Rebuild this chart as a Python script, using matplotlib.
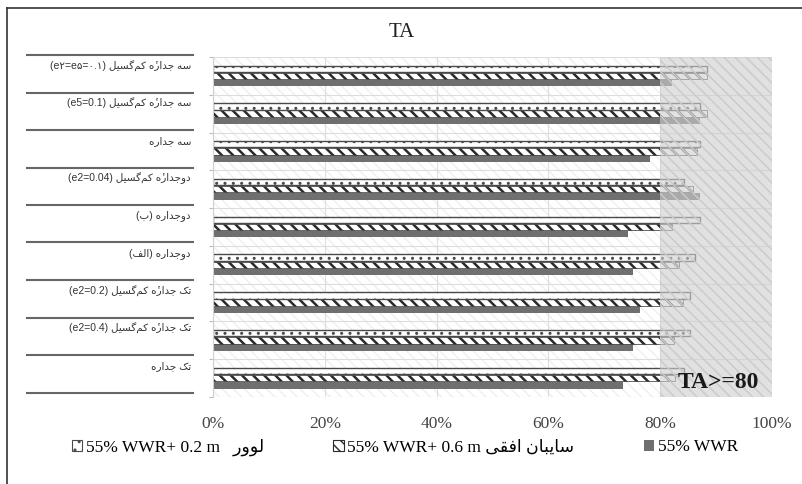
import matplotlib
matplotlib.use("Agg")
import matplotlib.pyplot as plt
from matplotlib.patches import Patch
from matplotlib.lines import Line2D

# categories, top to bottom (Persian part + latin part)
cat_fa = ["سه جدارۀ کم‌گسیل", "سه جدارۀ کم‌گسیل", "سه جداره",
          "دوجدارۀ کم‌گسیل", "دوجداره", "دوجداره",
          "تک جدارۀ کم‌گسیل", "تک جدارۀ کم‌گسیل", "تک جداره"]
cat_tag = ["(e۲=e۵=۰.۱)", "(e5=0.1)", "", "(e2=0.04)", "(ب)", "(الف)",
           "(e2=0.2)", "(e2=0.4)", ""]

wwr = [82.2, 87.2, 78.2, 87.2, 74.2, 75.2, 76.3, 75.2, 73.3]
shade06 = [88.3, 88.4, 86.5, 85.9, 82.2, 83.4, 84.1, 82.5, 82.6]
louver02 = [88.4, 87.2, 87.2, 84.3, 87.2, 86.3, 85.4, 85.4, 84.3]

xticks = [0, 20, 40, 60, 80, 100]
legend_fa = ["لوور", "سایبان افقی"]

# minimal arabic shaping (matplotlib has no complex text layout)
FORMS = {
    "ا": (0xFE8D, 0xFE8E, None, None), "ب": (0xFE8F, 0xFE90, 0xFE91, 0xFE92),
    "ت": (0xFE95, 0xFE96, 0xFE97, 0xFE98), "ج": (0xFE9D, 0xFE9E, 0xFE9F, 0xFEA0),
    "د": (0xFEA9, 0xFEAA, None, None), "ر": (0xFEAD, 0xFEAE, None, None),
    "س": (0xFEB1, 0xFEB2, 0xFEB3, 0xFEB4), "ف": (0xFED1, 0xFED2, 0xFED3, 0xFED4),
    "ق": (0xFED5, 0xFED6, 0xFED7, 0xFED8), "ل": (0xFEDD, 0xFEDE, 0xFEDF, 0xFEE0),
    "م": (0xFEE1, 0xFEE2, 0xFEE3, 0xFEE4), "ن": (0xFEE5, 0xFEE6, 0xFEE7, 0xFEE8),
    "ه": (0xFEE9, 0xFEEA, 0xFEEB, 0xFEEC), "و": (0xFEED, 0xFEEE, None, None),
    "ی": (0xFBFC, 0xFBFD, 0xFBFE, 0xFBFF), "ک": (0xFB8E, 0xFB8F, 0xFB90, 0xFB91),
    "گ": (0xFB92, 0xFB93, 0xFB94, 0xFB95), "ۀ": (0xFEE9, 0xFEEA, None, None),
}


def fa(s):
    out = []
    for i, c in enumerate(s):
        if c not in FORMS:
            if c != "\u200c":
                out.append(c)
            continue
        prev = s[i - 1] if i > 0 else None
        nxt = s[i + 1] if i + 1 < len(s) else None
        jp = prev in FORMS and FORMS[prev][2] is not None
        jn = nxt in FORMS and FORMS[c][2] is not None
        iso, fin, ini, med = FORMS[c]
        if jp and jn:
            g = med
        elif jp:
            g = fin
        elif jn:
            g = ini
        else:
            g = iso
        glyph = chr(g)
        if c == "ۀ":
            glyph += "\u0654"   # heh + hamza above
        out.append(glyph)
    return "".join(out[::-1])


def label(p, tag):
    if tag.startswith("(") and tag[1] in FORMS:
        tag = "(" + fa(tag[1:-1]) + ")"
    return (tag + " " + fa(p)).strip()


W, H = 803, 484
fig = plt.figure(figsize=(W / 100, H / 100), dpi=100)
ax = fig.add_axes([213 / W, 1 - 397 / H, (772 - 213) / W, (397 - 57) / H])

n = len(cat_fa)
ys = [n - 1 - i for i in range(n)]
h = 0.17
off = 0.19

# light hatched background
plt.rcParams["hatch.linewidth"] = 1.0
ax.axvspan(0, 100, facecolor="white", edgecolor="#efefef", hatch="\\\\\\", lw=0, zorder=0)

plt.rcParams["hatch.linewidth"] = 1.8
ax.barh([y - off for y in ys], wwr, height=h, color="#6f6f6f", lw=0, zorder=2)
ax.barh(ys, shade06, height=h, facecolor="white", edgecolor="#2a2a2a",
        hatch="\\\\\\", lw=0.5, zorder=2)
plt.rcParams["hatch.linewidth"] = 1.0
ax.barh([y + off for y in ys], louver02, height=h, facecolor="white",
        edgecolor="#4a4a4a", hatch="..", lw=1.0, zorder=2)

# TA >= 80 zone
ax.axvspan(80, 100, facecolor="#cfcfcf", alpha=0.62, lw=0, zorder=3)
ax.axvspan(80, 100, facecolor="none", edgecolor="#cbcbcb", hatch="\\\\\\", lw=0, zorder=3)

ax.set_xlim(0, 100)
ax.set_ylim(-0.5, n - 0.5)
ax.set_xticks(xticks)
ax.set_xticklabels([f"{t}%" for t in xticks], family="Liberation Serif",
                   fontsize=12.5, color="#444444")
ax.set_yticks([y + 0.5 for y in range(-1, n)])
ax.set_yticklabels([])
ax.tick_params(axis="x", length=0, pad=14)
ax.tick_params(axis="y", length=3, color="#bbbbbb")
ax.grid(True, color="#dddddd", lw=0.8)
ax.set_axisbelow(True)
for s in ["top", "right", "bottom"]:
    ax.spines[s].set_visible(False)
ax.spines["left"].set_color("#d0d0d0")

fig.text(402 / W, 1 - 33 / H, "TA", ha="center", va="center",
         family="Liberation Serif", fontsize=15, color="#222222")
fig.text(718 / W, 1 - 382 / H, "TA>=80", ha="center", va="center",
         family="Liberation Serif", fontsize=17, weight="bold", color="#1a1a1a")

# label table at left
for k in range(n + 1):
    y = 1 - (55 + 37.5 * k) / H
    fig.add_artist(Line2D([27 / W, 193 / W], [y, y], color="#666666", lw=1.5))
for k in range(n):
    y = 1 - (55 + 37.5 * k + 11) / H
    fig.text(191 / W, y, label(cat_fa[k], cat_tag[k]), ha="right", va="center",
             family=["Liberation Sans", "DejaVu Sans"], fontsize=7.5, color="#333333")

# outer frame
fig.add_artist(Line2D([7 / W, 7 / W], [0, 1 - 8 / H], color="#333333", lw=1.2))
fig.add_artist(Line2D([7 / W, 1], [1 - 8 / H, 1 - 8 / H], color="#333333", lw=1.2))

handles = [
    Patch(facecolor="white", edgecolor="#4a4a4a", hatch="..", lw=0.8),
    Patch(facecolor="white", edgecolor="#2a2a2a", hatch="\\\\\\", lw=0.8),
    Patch(facecolor="#6f6f6f", lw=0),
]
labels = ["55% WWR+ 0.2 m   " + fa(legend_fa[0]),
          "55% WWR+ 0.6 m " + fa(legend_fa[1]),
          "55% WWR"]
fig.legend(handles, labels, loc="center", bbox_to_anchor=(405 / W, 1 - 447 / H),
           ncol=3, frameon=False, handlelength=0.6, handleheight=0.6,
           handletextpad=0.2, columnspacing=4.0,
           prop={"family": ["Liberation Serif", "DejaVu Sans"], "size": 12.5})

fig.savefig("out.png", dpi=100)
